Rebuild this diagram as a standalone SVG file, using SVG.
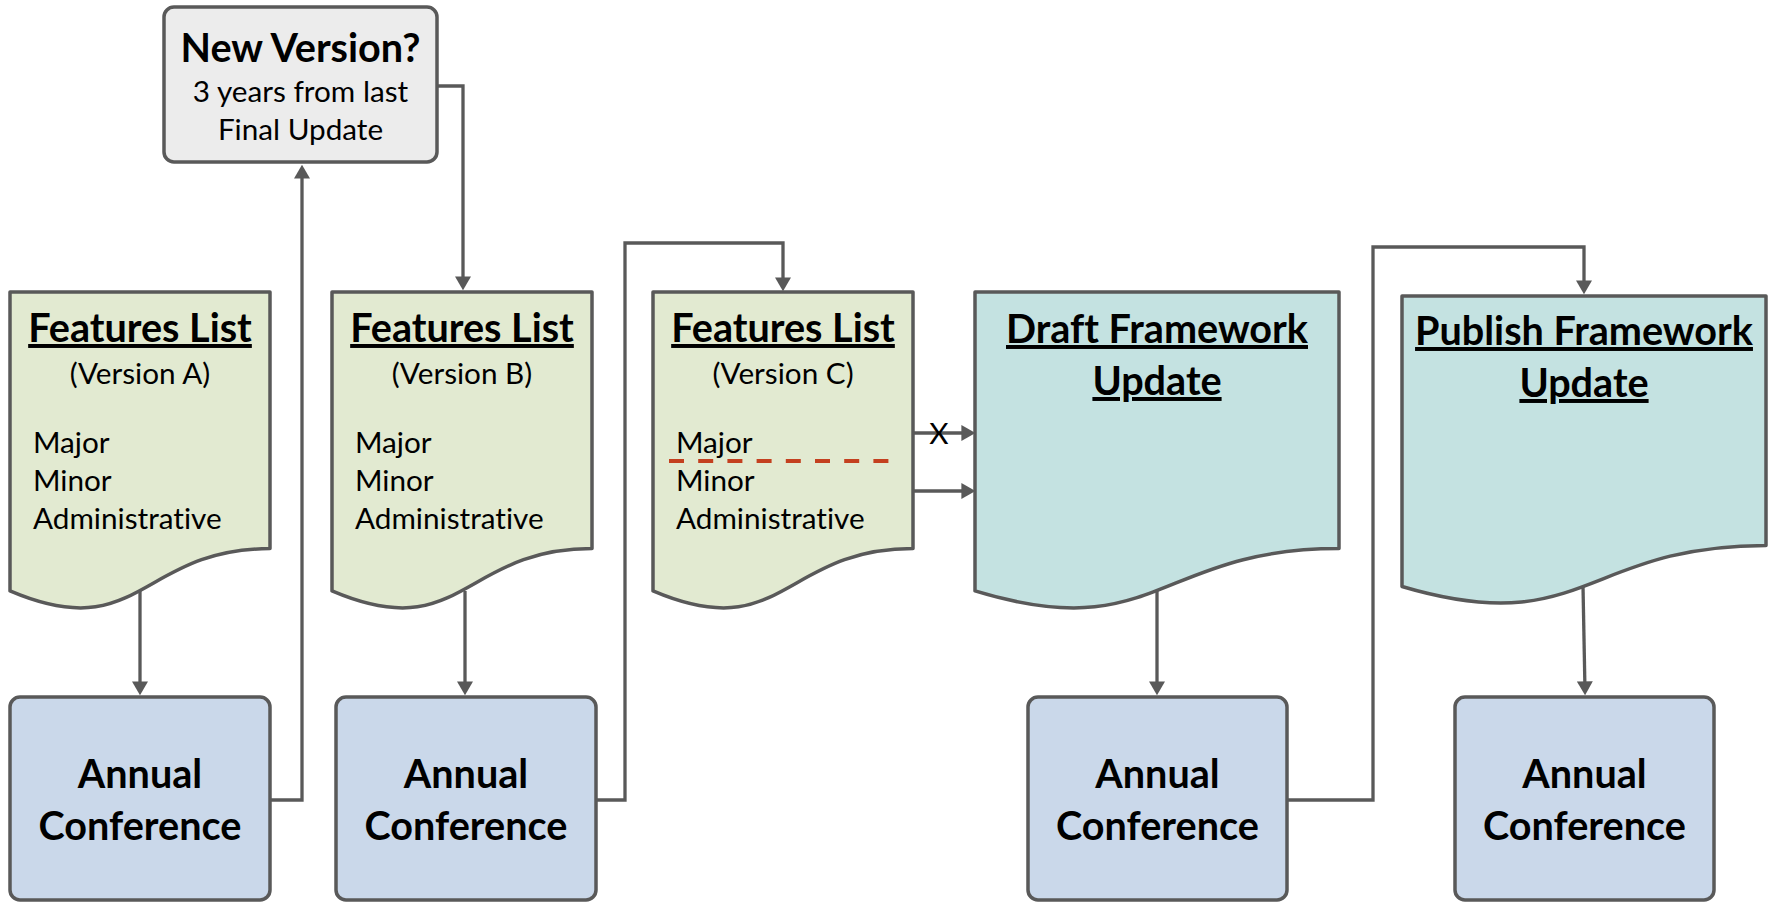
<svg xmlns="http://www.w3.org/2000/svg" width="1771" height="902" viewBox="0 0 1771 902">
  <style>
    .doc-green { fill: #e2ead1; stroke: #595959; stroke-width: 3.5; stroke-linejoin: round; }
    .doc-teal { fill: #c4e2e1; stroke: #595959; stroke-width: 3.5; stroke-linejoin: round; }
    .box-blue { fill: #cad8ea; stroke: #595959; stroke-width: 3.5; }
    .box-gray { fill: #ececec; stroke: #595959; stroke-width: 3.5; }
    .conn { fill: none; stroke: #595959; stroke-width: 3.3; stroke-linejoin: miter; marker-end: url(#arrow); }
    .cut { fill: none; stroke: #c4401f; stroke-width: 4; stroke-dasharray: 15 14.2; }
    text { font-family: Lato, "Liberation Sans", sans-serif; fill: #000; font-variant-ligatures: none; }
    .bold { font-weight: 700; font-size: 39.6px; text-anchor: middle; }
    .title { font-weight: 700; font-size: 39.6px; text-anchor: middle; text-decoration: underline; }
    .sub { font-size: 29.7px; text-anchor: middle; }
    .item { font-size: 29.7px; }
  </style>
  <defs>
    <marker id="arrow" markerUnits="userSpaceOnUse" markerWidth="14" markerHeight="16" viewBox="0 0 13 15" refX="9" refY="7.5" orient="auto">
      <path d="M0,0 L13,7.5 L0,15 Z" fill="#595959"/>
    </marker>
  </defs>

  <!-- connectors, drawn under the shapes -->
  <g id="connectors">
    <path class="conn" d="M140,591 V691"/>
    <path class="conn" d="M270,800 H302 V169"/>
    <path class="conn" d="M437,86 H463 V286"/>
    <path class="conn" d="M465,591 V691"/>
    <path class="conn" d="M596,800 H625 V243 H783 V287"/>
    <path class="conn" d="M913,433 H971"/>
    <path class="conn" d="M913,491 H971"/>
    <path class="conn" d="M1157,589 V691"/>
    <path class="conn" d="M1287,800 H1373 V247 H1584 V290"/>
    <path class="conn" d="M1583,586 L1585,691"/>
    <text class="sub" x="939" y="444">X</text>
  </g>

  <g id="new-version">
    <rect class="box-gray" x="164" y="7" width="273" height="155" rx="10"/>
    <text class="bold" x="300.5" y="62">New Version?</text>
    <text class="sub" x="300.5" y="102">3 years from last</text>
    <text class="sub" x="300.5" y="140">Final Update</text>
  </g>

  <g id="features-a">
    <path class="doc-green" d="M10,292 H270 V548.6 C140,548.6 140,646.4 10,590.9 Z"/>
    <text class="title" x="140" y="342">Features List</text>
    <text class="sub" x="140" y="384">(Version A)</text>
    <text class="item" x="33" y="453">Major</text>
    <text class="item" x="33" y="491">Minor</text>
    <text class="item" x="33" y="529">Administrative</text>
  </g>

  <g id="features-b">
    <path class="doc-green" d="M332,292 H592 V548.6 C462,548.6 462,646.4 332,590.9 Z"/>
    <text class="title" x="462" y="342">Features List</text>
    <text class="sub" x="462" y="384">(Version B)</text>
    <text class="item" x="355" y="453">Major</text>
    <text class="item" x="355" y="491">Minor</text>
    <text class="item" x="355" y="529">Administrative</text>
  </g>

  <g id="features-c">
    <path class="doc-green" d="M653,292 H913 V548.6 C783,548.6 783,646.4 653,590.9 Z"/>
    <text class="title" x="783" y="342">Features List</text>
    <text class="sub" x="783" y="384">(Version C)</text>
    <text class="item" x="676" y="453">Major</text>
    <text class="item" x="676" y="491">Minor</text>
    <text class="item" x="676" y="529">Administrative</text>
    <line class="cut" x1="669" y1="461" x2="889" y2="461"/>
  </g>

  <g id="draft-update">
    <path class="doc-teal" d="M975,292 H1339 V548.6 C1157,548.6 1157,646.4 975,590.9 Z"/>
    <text class="title" x="1157" y="343">Draft Framework</text>
    <text class="title" x="1157" y="395">Update</text>
  </g>

  <g id="publish-update">
    <path class="doc-teal" d="M1402,296 H1766 V545.4 C1584,545.4 1584,640.4 1402,586.5 Z"/>
    <text class="title" x="1584" y="345">Publish Framework</text>
    <text class="title" x="1584" y="397">Update</text>
  </g>

  <g id="conference-1">
    <rect class="box-blue" x="10" y="697" width="260" height="203" rx="10"/>
    <text class="bold" x="140" y="788">Annual</text>
    <text class="bold" x="140" y="840">Conference</text>
  </g>

  <g id="conference-2">
    <rect class="box-blue" x="336" y="697" width="260" height="203" rx="10"/>
    <text class="bold" x="466" y="788">Annual</text>
    <text class="bold" x="466" y="840">Conference</text>
  </g>

  <g id="conference-3">
    <rect class="box-blue" x="1028" y="697" width="259" height="203" rx="10"/>
    <text class="bold" x="1157.5" y="788">Annual</text>
    <text class="bold" x="1157.5" y="840">Conference</text>
  </g>

  <g id="conference-4">
    <rect class="box-blue" x="1455" y="697" width="259" height="203" rx="10"/>
    <text class="bold" x="1584.5" y="788">Annual</text>
    <text class="bold" x="1584.5" y="840">Conference</text>
  </g>
</svg>
